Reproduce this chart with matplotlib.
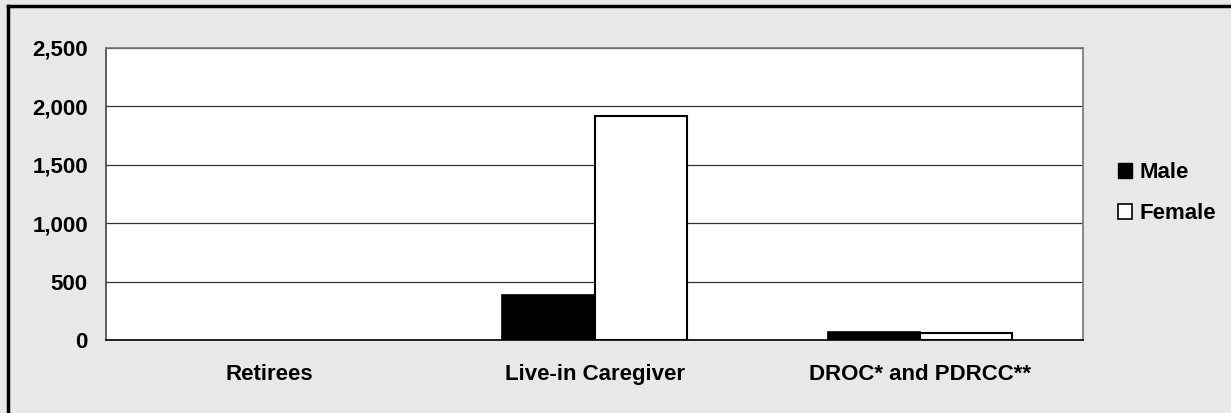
import matplotlib.pyplot as plt
import numpy as np
from matplotlib.patches import Patch
from matplotlib.lines import Line2D

# permits by category and sex
categories = ["Retirees", "Live-in Caregiver", "DROC* and PDRCC**"]
male = [0, 383, 65]
female = [0, 1918, 60]
yticks = [0, 500, 1000, 1500, 2000, 2500]

plt.rcParams['font.family'] = ['Liberation Sans', 'DejaVu Sans']
plt.rcParams['font.weight'] = 'bold'

fig = plt.figure(figsize=(12.31, 4.13), dpi=100)
fig.patch.set_facecolor("#e8e8e8")
ax = fig.add_axes([0.0861, 0.1768, 0.7937, 0.707])

x = np.arange(len(categories))
w = 0.283
# zero-height bars get no outline
male_lw = [1.2 if v > 0 else 0 for v in male]
female_lw = [1.5 if v > 0 else 0 for v in female]
ax.bar(x - w / 2, male, w, color="black", edgecolor="black", linewidth=male_lw, label="Male")
ax.bar(x + w / 2, female, w, color="white", edgecolor="black", linewidth=female_lw, label="Female")

ax.set_xlim(-0.5, 2.5)
ax.set_ylim(0, 2500)
ax.set_yticks(yticks)
ax.set_yticklabels(["{:,}".format(v) for v in yticks], fontsize=16, fontweight="bold")
ax.set_xticks(x)
ax.set_xticklabels(categories, fontsize=16, fontweight="bold")
ax.tick_params(axis="y", length=0, pad=13)
ax.tick_params(axis="x", length=0, pad=17)

ax.set_axisbelow(True)
ax.yaxis.grid(True, color="#333333", linewidth=0.9)
ax.spines["top"].set_color("#777777")
ax.spines["right"].set_color("#777777")
ax.spines["left"].set_color("#444444")
ax.spines["bottom"].set_color("black")
for s in ax.spines.values():
    s.set_linewidth(1.2)

handles = [Patch(facecolor="black", edgecolor="black", label="Male"),
           Patch(facecolor="white", edgecolor="black", linewidth=1.2, label="Female")]
fig.legend(handles=handles, loc="upper left", bbox_to_anchor=(0.892, 0.655),
           frameon=False, fontsize=16, handlelength=0.65, handleheight=0.65,
           handletextpad=0.3, labelspacing=0.9)

# outer frame (top and left edges)
fig.add_artist(Line2D([0.0065, 0.0065], [0, 0.985], color="black", linewidth=2.5,
                      transform=fig.transFigure))
fig.add_artist(Line2D([0.0065, 1.0], [0.985, 0.985], color="black", linewidth=2.5,
                      transform=fig.transFigure))

fig.savefig("out.png", dpi=100, facecolor=fig.get_facecolor())
